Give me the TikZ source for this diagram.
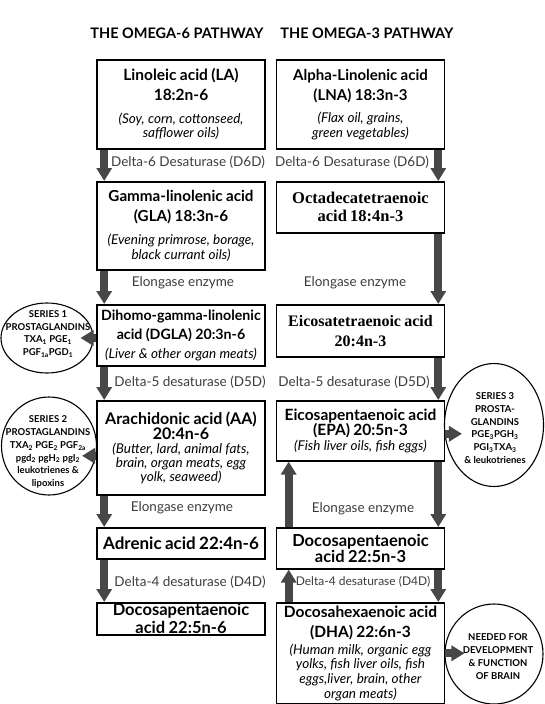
\documentclass[tikz,border=0pt]{standalone}
\usepackage{fontspec}
\setmainfont{Lato}
\newfontfamily\timesfont{Liberation Serif}
\usetikzlibrary{arrows.meta,shapes.geometric,calc}
\definecolor{arrowgray}{HTML}{474747}
\definecolor{enzymegray}{HTML}{3C3C3C}
% heading: size, leading, text
\newcommand{\acidname}[3]{{\bfseries\fontsize{#1}{#2}\selectfont #3\par}}
\newcommand{\acidsrc}[2][14.5]{{\itshape\fontsize{13.5}{#1}\selectfont #2\par}}
\tikzset{
  pathway/.style={font=\bfseries\fontsize{14.5}{16}\selectfont},
  acidbox/.style={draw, line width=1.6pt, text width=166pt, minimum width=168pt,
    inner sep=1pt, align=center, anchor=north},
  enzyme/.style={font=\fontsize{13.5}{15}\selectfont, text=enzymegray},
  flow/.style={arrowgray, line width=8pt, -{Triangle[width=15pt,length=13pt]}},
  series/.style={draw, ellipse, line width=1.1pt, inner sep=0pt},
  seriestext/.style={font=\bfseries\fontsize{9.5}{12.8}\selectfont, align=center, inner sep=0pt}
}

\begin{document}
\begin{tikzpicture}[x=1pt,y=-1pt]
 \useasboundingbox (0,0) rectangle (544,704);
 \node[pathway] (t6) at (177,33) {THE OMEGA-6 PATHWAY};
 \node[pathway] (t3) at (367,33) {THE OMEGA-3 PATHWAY};

 % omega-6 column
 \node[acidbox, minimum height=89pt] (la) at (181,59)
  {\acidname{15.5}{20}{Linoleic acid (LA)\\18:2n-6}\vspace{8pt}\acidsrc{(Soy, corn, cottonseed,\\safflower oils)}};
 \node[acidbox, minimum height=88pt] (gla) at (181,181)
  {\acidname{15.2}{20}{Gamma-linolenic acid\\(GLA) 18:3n-6}\vspace{8pt}\acidsrc[15]{(Evening primrose, borage,\\black currant oils)}};
 \node[acidbox, minimum height=61pt] (dgla) at (181,304)
  {\acidname{14.2}{19}{Dihomo-gamma-linolenic\\acid (DGLA) 20:3n-6}\vspace{4pt}\acidsrc{(Liver \& other organ meats)}};
 \node[acidbox, minimum height=94pt] (aa) at (181,400)
  {\acidname{16}{15}{Arachidonic acid (AA)\\20:4n-6}\acidsrc[14]{(Butter, lard, animal fats,\\brain, organ meats, egg\\yolk, seaweed)}\vspace{20pt}};
 \node[acidbox, minimum height=31pt] (adr) at (181,527) {\acidname{17}{20}{Adrenic acid 22:4n-6}};
 \node[acidbox, minimum height=32pt, inner ysep=0pt] (dpa6) at (181,602)
  {\acidname{16.5}{18}{Docosapentaenoic\\acid 22:5n-6}\vspace{-4pt}};

 % omega-3 column
 \node[acidbox, minimum height=89pt] (lna) at (360.5,59)
  {\acidname{15}{20}{Alpha-Linolenic acid\\(LNA) 18:3n-3}\vspace{8pt}\acidsrc{(Flax oil, grains,\\green vegetables)}};
 \node[acidbox, minimum height=51pt] (octa) at (360.5,181)
  {\timesfont\acidname{16.5}{18}{Octadecatetraenoic\\acid 18:4n-3}\vspace{4pt}};
 \node[acidbox, minimum height=52pt] (eta) at (360.5,304)
  {\timesfont\acidname{16}{20}{Eicosatetraenoic acid\\20:4n-3}\vspace{2pt}};
 \node[acidbox, minimum height=60pt] (epa) at (360.5,400)
  {\acidname{15.5}{15.5}{Eicosapentaenoic acid\\(EPA) 20:5n-3}\acidsrc{(Fish liver oils, fish eggs)}\vspace{10pt}};
 \node[acidbox, minimum height=41pt] (dpa3) at (360.5,527) {\acidname{16.5}{16}{Docosapentaenoic\\acid 22:5n-3}};
 \node[acidbox, minimum height=101pt] (dha) at (360.5,602)
  {\acidname{15.5}{20}{Docosahexaenoic acid\\(DHA) 22:6n-3}\vspace{2pt}\acidsrc[14.7]{(Human milk, organic egg\\yolks, fish liver oils, fish\\eggs,liver, brain, other\\organ meats)}};

 % enzymes
 \node[enzyme] (d6l) at (188,162) {Delta-6 Desaturase (D6D)};
 \node[enzyme] (d6r) at (352,162) {Delta-6 Desaturase (D6D)};
 \node[enzyme] (el1) at (183,283) {Elongase enzyme};
 \node[enzyme] (er1) at (355,283) {Elongase enzyme};
 \node[enzyme] (d5l) at (190,382) {Delta-5 desaturase (D5D)};
 \node[enzyme] (d5r) at (354,382) {Delta-5 desaturase (D5D)};
 \node[enzyme] (el2) at (182,508) {Elongase enzyme};
 \node[enzyme] (er2) at (363,509) {Elongase enzyme};
 \node[enzyme] (d4l) at (190,582) {Delta-4 desaturase (D4D)};
 \node[enzyme, font=\fontsize{12}{14}\selectfont] (d4r) at (363,582) {Delta-4 desaturase (D4D)};

 % eicosanoids
 \node[series, minimum width=92pt, minimum height=70pt] (s1) at (47,338) {};
 \node[seriestext] (s1txt) at (48,334)
  {SERIES 1\\PROSTAGLANDINS\\TXA\textsubscript{1} PGE\textsubscript{1}\\PGF\textsubscript{1a}PGD\textsubscript{1}};
 \node[series, minimum width=95pt, minimum height=98pt] (s2) at (49,446) {};
 \node[seriestext] (s2txt) at (48,452)
  {SERIES 2\\PROSTAGLANDINS\\TXA\textsubscript{2} PGE\textsubscript{2} PGF\textsubscript{2a}\\pgd\textsubscript{2} pgH\textsubscript{2} pgI\textsubscript{2}\\leukotrienes \&\\lipoxins};
 \node[series, minimum width=99pt, minimum height=123pt] (s3) at (494,425) {};
 \node[seriestext] (s3txt) at (495,428)
  {SERIES 3\\PROSTA-\\GLANDINS\\PGE\textsubscript{3}PGH\textsubscript{3}\\PGI\textsubscript{3}TXA\textsubscript{3}\\\& leukotrienes};
 \node[series, minimum width=98pt, minimum height=100pt] (brain) at (494,654) {};
 \node[seriestext] (braintxt) at (498,656.5)
  {NEEDED FOR\\DEVELOPMENT\\\& FUNCTION\\OF BRAIN};

 % arrows
 \draw[flow] ([xshift=8pt]la.south west) -- ([xshift=8pt]gla.north west);
 \draw[flow] ([xshift=8pt]gla.south west) -- ([xshift=8pt]dgla.north west);
 \draw[flow] ([xshift=8pt]dgla.south west) -- ([xshift=8pt]aa.north west);
 \draw[flow] ([xshift=8pt]aa.south west) -- ([xshift=8pt]adr.north west);
 \draw[flow] ([xshift=8pt]adr.south west) -- ([xshift=8pt]dpa6.north west);
 \draw[flow] ([xshift=-7pt]lna.south east) -- ([xshift=-7pt]octa.north east);
 \draw[flow] ([xshift=-7pt]octa.south east) -- ([xshift=-7pt]eta.north east);
 \draw[flow] ([xshift=-7pt]eta.south east) -- ([xshift=-7pt]epa.north east);
 \draw[flow] ([xshift=-7pt]epa.south east) -- ([xshift=-7pt]dpa3.north east);
 \draw[flow] ([xshift=-7pt]dpa3.south east) -- ([xshift=-7pt]dha.north east);
 \draw[flow] ([xshift=13pt]dpa3.north west) -- ([xshift=13pt]epa.south west);
 \draw[flow] ([xshift=13pt]dha.north west) -- ([xshift=13pt]dpa3.south west);
 \draw[flow] (s1.east -| dgla.west) -- ($(s1.east)+(-13,0)$);
 \draw[flow] ($(aa.west)+(0,8)$) -- ($(s2.east |- aa.west)+(-15,8)$);
 \draw[flow] ($(epa.east)+(0,3)$) -- ($(s3.west |- epa.east)+(18,3)$);
 \draw[flow] (dha.east) -- ($(brain.west |- dha.east)+(20,0)$);
\end{tikzpicture}
\end{document}
